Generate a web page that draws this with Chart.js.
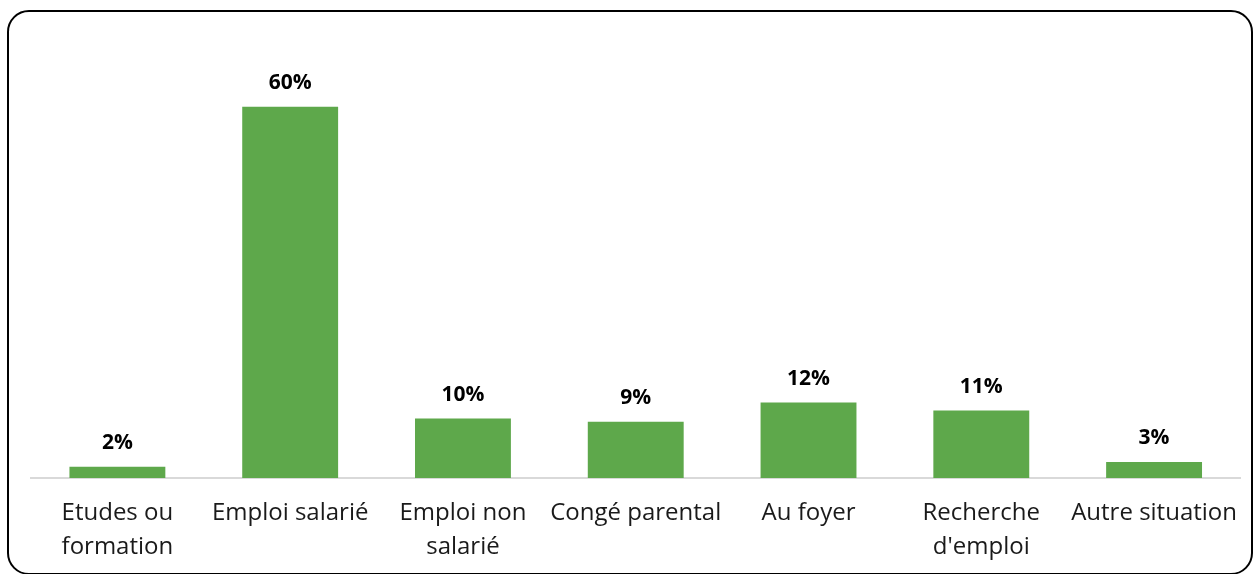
<!DOCTYPE html>
<html>
<head>
<meta charset="utf-8">
<script src="https://cdn.jsdelivr.net/npm/chart.js@4"></script>
<style>
  html, body { margin: 0; padding: 0; background: #fff; }
  #wrap { position: relative; width: 1256px; height: 574px; }
  #frame {
    position: absolute; left: 7px; top: 10px; width: 1242px; height: 561px;
    border: 2px solid #000; border-radius: 22px; pointer-events: none;
  }
  canvas { position: absolute; left: 0; top: 0; }
</style>
</head>
<body>
<div id="wrap">
  <canvas id="chart" width="1256" height="574"></canvas>
  <div id="frame"></div>
</div>
<script>
"use strict";

const categories = [
    ["Etudes ou", "formation"],
    "Emploi salarié",
    ["Emploi non", "salarié"],
    "Congé parental",
    "Au foyer",
    ["Recherche", "d'emploi"],
    "Autre situation"
];
// parts (en %), étiquettes arrondies
const shares = [1.8, 60, 9.6, 9.1, 12.2, 10.9, 2.6];

// étiquettes en gras au-dessus des barres
const valueLabels = {
    id: "valueLabels",
    afterDatasetsDraw(chart) {
        const ctx = chart.ctx;
        const meta = chart.getDatasetMeta(0);
        ctx.save();
        ctx.font = "bold 21px 'Open Sans'";
        ctx.fillStyle = "#000";
        ctx.textAlign = "center";
        ctx.textBaseline = "middle";
        meta.data.forEach((bar, i) => {
            ctx.fillText(Math.round(shares[i]) + "%", bar.x, bar.y - 24);
        });
        ctx.restore();
    }
};

new Chart(document.getElementById("chart"), {
    type: "bar",
    data: {
        labels: categories,
        datasets: [{
            data: shares,
            backgroundColor: "#5EA84B",
            borderWidth: 0,
            categoryPercentage: 1,
            barPercentage: 0.555
        }]
    },
    options: {
        responsive: false,
        animation: false,
        layout: { padding: { left: 31, right: 14, top: 45, bottom: -8 } },
        plugins: { legend: { display: false }, tooltip: { enabled: false } },
        scales: {
            x: {
                grid: { display: false, drawTicks: false },
                border: { display: true, color: "#d9d9d9", width: 2 },
                ticks: {
                    color: "#1a1a1a",
                    padding: 18,
                    maxRotation: 0,
                    autoSkip: false,
                    font: { family: "'Open Sans'", size: 24, lineHeight: "34px" }
                }
            },
            y: {
                display: false,
                min: 0,
                max: 70
            }
        }
    },
    plugins: [valueLabels]
});
</script>
</body>
</html>
